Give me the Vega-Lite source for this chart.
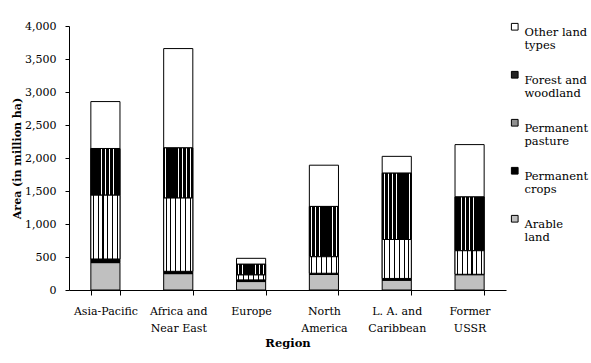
{
  "$schema": "https://vega.github.io/schema/vega-lite/v6.json",
  "width": 437,
  "height": 264,
  "autosize": "none",
  "padding": {"left": 69, "top": 26, "right": 85, "bottom": 73},
  "background": "white",
  "config": {
    "font": "DejaVu Serif",
    "view": {"stroke": null},
    "axis": {"domainColor": "black", "tickColor": "black", "labelColor": "black", "titleColor": "black", "grid": false, "labelFont": "DejaVu Serif", "titleFont": "DejaVu Serif"},
    "legend": {"labelFont": "DejaVu Serif", "labelColor": "black"}
  },
  "data": {
    "values": [
      {"region": "Asia-Pacific", "type": "Arable land", "area": 415},
      {"region": "Asia-Pacific", "type": "Permanent crops", "area": 55},
      {"region": "Asia-Pacific", "type": "Permanent pasture", "area": 967},
      {"region": "Asia-Pacific", "type": "Forest and woodland", "area": 707},
      {"region": "Asia-Pacific", "type": "Other land types", "area": 711},
      {"region": "Africa and Near East", "type": "Arable land", "area": 248},
      {"region": "Africa and Near East", "type": "Permanent crops", "area": 35},
      {"region": "Africa and Near East", "type": "Permanent pasture", "area": 1110},
      {"region": "Africa and Near East", "type": "Forest and woodland", "area": 760},
      {"region": "Africa and Near East", "type": "Other land types", "area": 1505},
      {"region": "Europe", "type": "Arable land", "area": 128},
      {"region": "Europe", "type": "Permanent crops", "area": 25},
      {"region": "Europe", "type": "Permanent pasture", "area": 75},
      {"region": "Europe", "type": "Forest and woodland", "area": 162},
      {"region": "Europe", "type": "Other land types", "area": 90},
      {"region": "North America", "type": "Arable land", "area": 236},
      {"region": "North America", "type": "Permanent crops", "area": 18},
      {"region": "North America", "type": "Permanent pasture", "area": 250},
      {"region": "North America", "type": "Forest and woodland", "area": 762},
      {"region": "North America", "type": "Other land types", "area": 625},
      {"region": "L. A. and Caribbean", "type": "Arable land", "area": 148},
      {"region": "L. A. and Caribbean", "type": "Permanent crops", "area": 27},
      {"region": "L. A. and Caribbean", "type": "Permanent pasture", "area": 590},
      {"region": "L. A. and Caribbean", "type": "Forest and woodland", "area": 1005},
      {"region": "L. A. and Caribbean", "type": "Other land types", "area": 255},
      {"region": "Former USSR", "type": "Arable land", "area": 232},
      {"region": "Former USSR", "type": "Permanent crops", "area": 6},
      {"region": "Former USSR", "type": "Permanent pasture", "area": 357},
      {"region": "Former USSR", "type": "Forest and woodland", "area": 815},
      {"region": "Former USSR", "type": "Other land types", "area": 793}
    ]
  },
  "transform": [
    {"calculate": "indexof(['Arable land','Permanent crops','Permanent pasture','Forest and woodland','Other land types'], datum.type)", "as": "rank"},
    {"stack": "area", "groupby": ["region"], "sort": [{"field": "rank", "order": "ascending"}], "as": ["y0", "y1"]}
  ],
  "encoding": {
    "x": {
      "field": "region",
      "type": "nominal",
      "sort": ["Asia-Pacific", "Africa and Near East", "Europe", "North America", "L. A. and Caribbean", "Former USSR"],
      "scale": {"paddingInner": 0.6, "paddingOuter": 0.3},
      "axis": {
        "title": "Region",
        "titleFontSize": 11.5,
        "titleFontWeight": "bold",
        "titlePadding": 4,
        "labelAngle": 0,
        "labelFontSize": 11,
        "labelBaseline": "top",
        "labelLineHeight": 17,
        "labelPadding": 10,
        "tickSize": 5,
        "tickBand": "extent",
        "labelExpr": "datum.label == 'Africa and Near East' ? ['Africa and','Near East'] : datum.label == 'North America' ? ['North','America'] : datum.label == 'L. A. and Caribbean' ? ['L. A. and','Caribbean'] : datum.label == 'Former USSR' ? ['Former','USSR'] : datum.label"
      }
    },
    "y": {
      "field": "y1",
      "type": "quantitative",
      "scale": {"domain": [0, 4000], "nice": false},
      "axis": {
        "title": "Area (in million ha)",
        "titleFontSize": 11,
        "titleFontWeight": "bold",
        "titlePadding": 2,
        "values": [0, 500, 1000, 1500, 2000, 2500, 3000, 3500, 4000],
        "format": ",d",
        "labelFontSize": 11,
        "tickSize": 4,
        "labelPadding": 9
      }
    },
    "y2": {"field": "y0"}
  },
  "layer": [
    {
      "mark": {"type": "bar", "stroke": "black", "strokeWidth": 1},
      "encoding": {
        "color": {
          "field": "type",
          "type": "nominal",
          "scale": {
            "domain": ["Other land types", "Forest and woodland", "Permanent pasture", "Permanent crops", "Arable land"],
            "range": ["#ffffff", "#222222", "#909090", "#000000", "#c0c0c0"]
          },
          "legend": {
            "title": null,
            "orient": "none",
            "legendX": 440,
            "legendY": -5,
            "padding": 0,
            "symbolType": "square",
            "symbolSize": 45,
            "symbolStrokeColor": "black",
            "symbolStrokeWidth": 1,
            "symbolOpacity": 1,
            "labelFontSize": 11.5,
            "labelBaseline": "top",
            "labelOffset": 4,
            "labelLimit": 200,
            "rowPadding": 17,
            "labelExpr": "datum.label == 'Other land types' ? ['Other land','types'] : datum.label == 'Forest and woodland' ? ['Forest and','woodland'] : datum.label == 'Permanent pasture' ? ['Permanent','pasture'] : datum.label == 'Permanent crops' ? ['Permanent','crops'] : ['Arable','land']"
          }
        }
      }
    },
    {
      "transform": [{"filter": "datum.type == 'Forest and woodland'"}],
      "mark": {
        "type": "bar", "stroke": "black", "strokeWidth": 1,
        "fill": {"gradient": "linear", "x1": 0, "y1": 0, "x2": 1, "y2": 0, "stops": [
          {"offset": 0, "color": "#000000"}, {"offset": 0.06, "color": "#000000"}, {"offset": 0.06, "color": "#ffffff"}, {"offset": 0.083, "color": "#ffffff"}, {"offset": 0.083, "color": "#000000"},
          {"offset": 0.203, "color": "#000000"}, {"offset": 0.203, "color": "#ffffff"}, {"offset": 0.226, "color": "#ffffff"}, {"offset": 0.226, "color": "#000000"},
          {"offset": 0.346, "color": "#000000"}, {"offset": 0.346, "color": "#ffffff"}, {"offset": 0.369, "color": "#ffffff"}, {"offset": 0.369, "color": "#000000"},
          {"offset": 0.489, "color": "#000000"}, {"offset": 0.489, "color": "#ffffff"}, {"offset": 0.511, "color": "#ffffff"}, {"offset": 0.511, "color": "#000000"},
          {"offset": 0.631, "color": "#000000"}, {"offset": 0.631, "color": "#ffffff"}, {"offset": 0.654, "color": "#ffffff"}, {"offset": 0.654, "color": "#000000"},
          {"offset": 0.774, "color": "#000000"}, {"offset": 0.774, "color": "#ffffff"}, {"offset": 0.797, "color": "#ffffff"}, {"offset": 0.797, "color": "#000000"},
          {"offset": 0.917, "color": "#000000"}, {"offset": 0.917, "color": "#ffffff"}, {"offset": 0.94, "color": "#ffffff"}, {"offset": 0.94, "color": "#000000"},
          {"offset": 1, "color": "#000000"}
        ]}
      }
    },
    {
      "transform": [{"filter": "datum.type == 'Permanent pasture'"}],
      "mark": {
        "type": "bar", "stroke": "black", "strokeWidth": 1,
        "fill": {"gradient": "linear", "x1": 0, "y1": 0, "x2": 1, "y2": 0, "stops": [
          {"offset": 0, "color": "#ffffff"}, {"offset": 0.065, "color": "#ffffff"}, {"offset": 0.065, "color": "#000000"}, {"offset": 0.102, "color": "#000000"}, {"offset": 0.102, "color": "#ffffff"},
          {"offset": 0.232, "color": "#ffffff"}, {"offset": 0.232, "color": "#000000"}, {"offset": 0.268, "color": "#000000"}, {"offset": 0.268, "color": "#ffffff"},
          {"offset": 0.399, "color": "#ffffff"}, {"offset": 0.399, "color": "#000000"}, {"offset": 0.435, "color": "#000000"}, {"offset": 0.435, "color": "#ffffff"},
          {"offset": 0.565, "color": "#ffffff"}, {"offset": 0.565, "color": "#000000"}, {"offset": 0.602, "color": "#000000"}, {"offset": 0.602, "color": "#ffffff"},
          {"offset": 0.732, "color": "#ffffff"}, {"offset": 0.732, "color": "#000000"}, {"offset": 0.768, "color": "#000000"}, {"offset": 0.768, "color": "#ffffff"},
          {"offset": 0.899, "color": "#ffffff"}, {"offset": 0.899, "color": "#000000"}, {"offset": 0.935, "color": "#000000"}, {"offset": 0.935, "color": "#ffffff"},
          {"offset": 1, "color": "#ffffff"}
        ]}
      }
    }
  ]
}
